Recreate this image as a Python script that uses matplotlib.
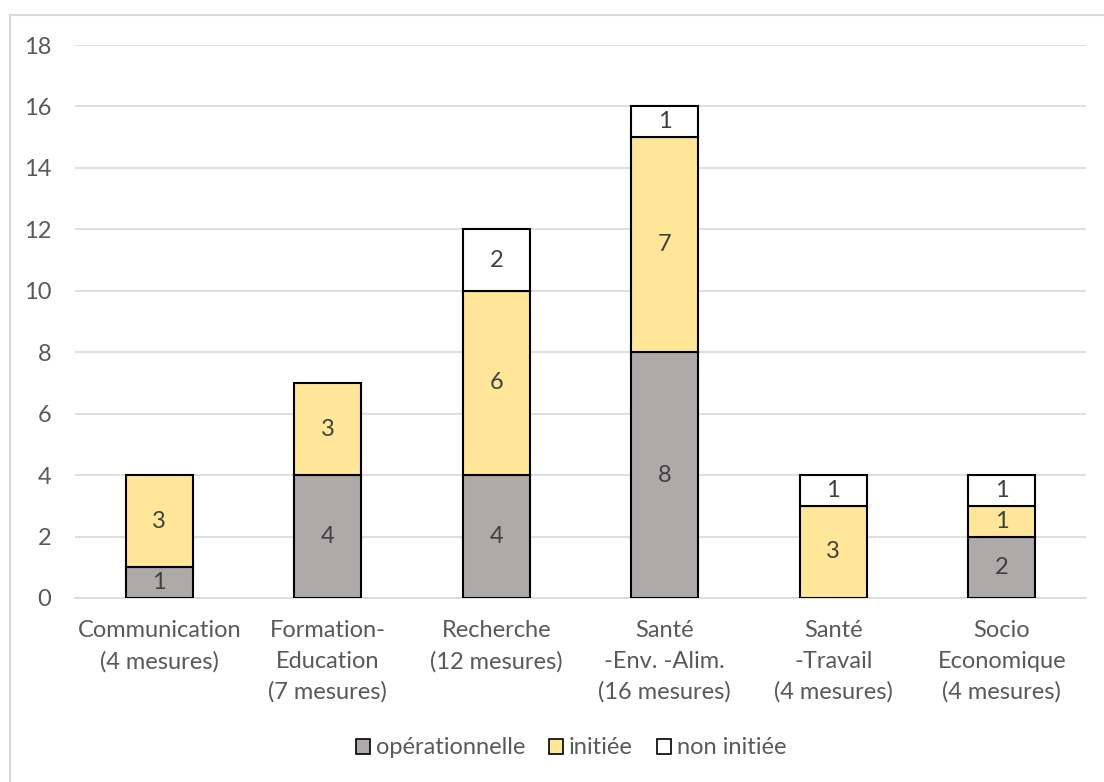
import matplotlib
matplotlib.use("Agg")
import matplotlib.pyplot as plt
from matplotlib.patches import Patch
from matplotlib.lines import Line2D

categories = ["Communication\n(4 mesures)", "Formation-\nEducation\n(7 mesures)",
              "Recherche\n(12 mesures)", "Santé\n-Env. -Alim.\n(16 mesures)",
              "Santé\n-Travail\n(4 mesures)", "Socio\nEconomique\n(4 mesures)"]
operationnelle = [1, 4, 4, 8, 0, 2]
initiee = [3, 3, 6, 7, 3, 1]
non_initiee = [0, 0, 2, 1, 1, 1]
series_names = ["opérationnelle", "initiée", "non initiée"]
yticks = [0, 2, 4, 6, 8, 10, 12, 14, 16, 18]

plt.rcParams['font.family'] = ['Lato', 'DejaVu Sans']
FS = 17

colors = ["#AEAAAA", "#FFE699", "#FFFFFF"]
W, H = 1104, 782
fig = plt.figure(figsize=(W / 100, H / 100), dpi=100)
ax = fig.add_axes([75 / W, 1 - 598 / H, (1086 - 75) / W, (598 - 45) / H])

x = list(range(len(categories)))
bottoms = [0] * len(categories)
for vals, col in zip([operationnelle, initiee, non_initiee], colors):
    for i, v in enumerate(vals):
        if v > 0:
            ax.bar(i, v, bottom=bottoms[i], width=0.4, color=col,
                   edgecolor="black", linewidth=1.5, zorder=3)
            ax.text(i, bottoms[i] + v / 2, str(v), ha="center", va="center",
                    fontsize=FS, color="#404040", zorder=4)
    bottoms = [b + v for b, v in zip(bottoms, vals)]

ax.set_xlim(-0.5, len(categories) - 0.5)
ax.set_ylim(0, 18)
ax.set_yticks(yticks)
ax.set_yticklabels([str(t) for t in yticks], fontsize=FS, color="#595959")
ax.set_xticks(x)
ax.set_xticklabels(categories, fontsize=FS, color="#595959")
for t in ax.get_xticklabels():
    t.set_linespacing(1.56)
ax.tick_params(axis="both", length=0)
ax.tick_params(axis="y", pad=17)
ax.tick_params(axis="x", pad=16)
ax.grid(axis="y", color="#D9D9D9", linewidth=1.2, zorder=0)
for s in ["top", "right", "left"]:
    ax.spines[s].set_visible(False)
ax.spines["bottom"].set_color("#D9D9D9")
ax.spines["bottom"].set_linewidth(1.2)

handles = [Patch(facecolor=c, edgecolor="black", linewidth=1.2) for c in colors]
leg = fig.legend(handles, series_names, loc="center", bbox_to_anchor=(571 / W, 1 - 748 / H),
                 ncol=3, frameon=False, fontsize=FS, handlelength=0.6, handleheight=0.6,
                 handletextpad=0.25, columnspacing=1.0)
for t in leg.get_texts():
    t.set_color("#595959")

fig.add_artist(Line2D([10 / W, 10 / W], [0, 1 - 15 / H], transform=fig.transFigure,
                      color="#D9D9D9", linewidth=1.5))
fig.add_artist(Line2D([10 / W, 1], [1 - 15 / H, 1 - 15 / H], transform=fig.transFigure,
                      color="#D9D9D9", linewidth=1.5))

fig.savefig("out.png", dpi=100)
